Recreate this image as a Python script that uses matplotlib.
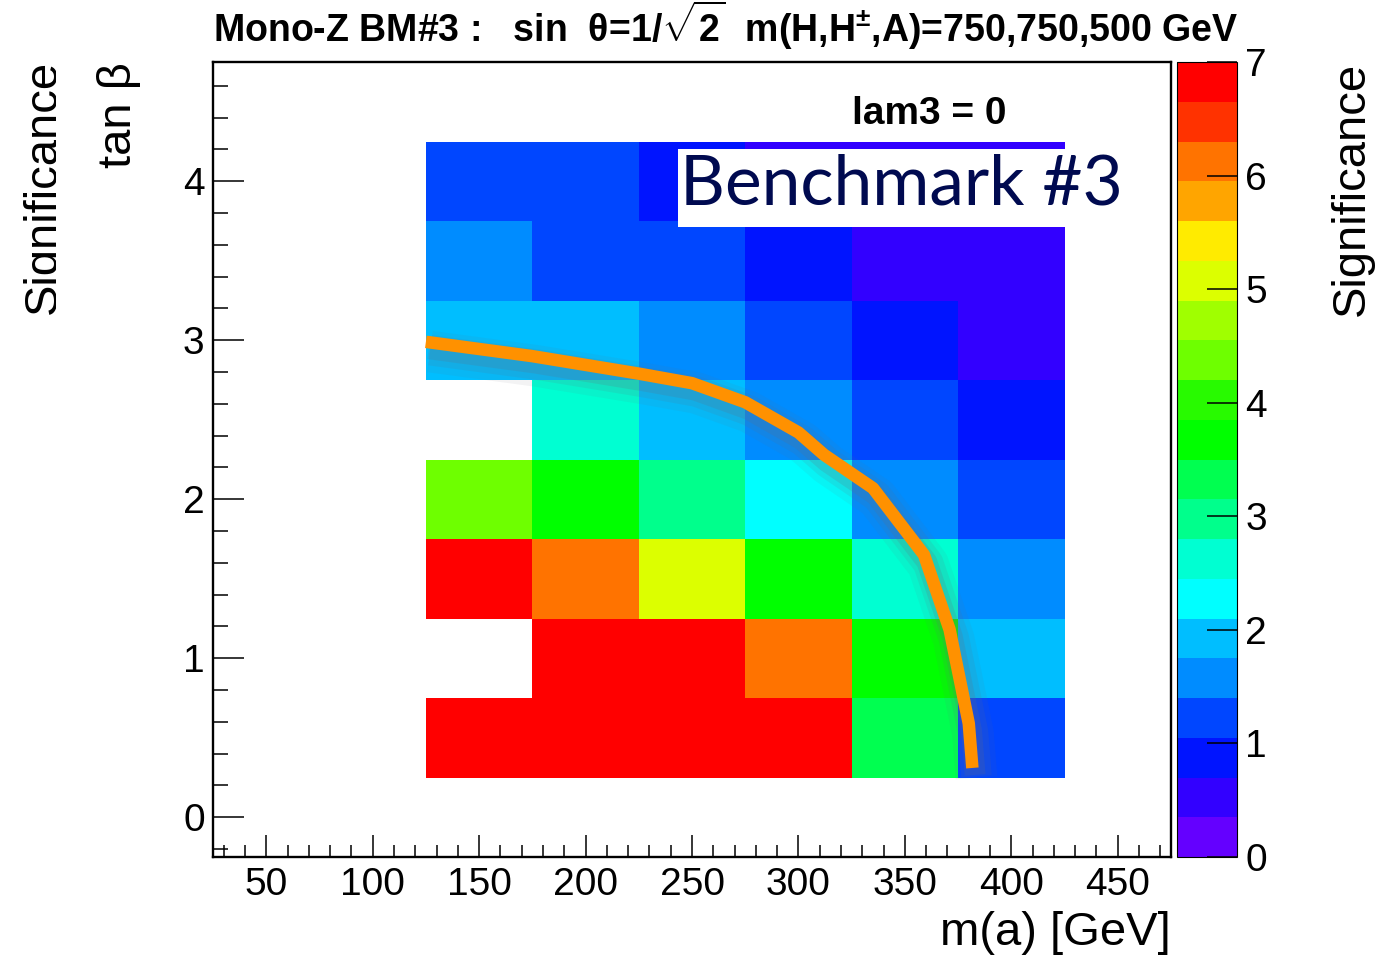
import numpy as np
import matplotlib
matplotlib.use('Agg')
import matplotlib.pyplot as plt
from matplotlib import font_manager
from matplotlib import patheffects as pe
from matplotlib.colors import ListedColormap, BoundaryNorm
from matplotlib.patches import Rectangle
from matplotlib.ticker import MultipleLocator
from matplotlib.transforms import Bbox, TransformedBbox

# --- data ---
ma_edges = [125, 175, 225, 275, 325, 375, 425]
tanb_edges = [0.25, 0.75, 1.25, 1.75, 2.25, 2.75, 3.25, 3.75, 4.25]

# significance per cell, rows from tan(b)=0.5 up to 4.0
signif = np.array([
    [6.9, 6.9, 6.9, 6.9, 3.3, 1.2],
    [np.nan, 6.9, 6.9, 6.1, 3.7, 1.9],
    [6.9, 6.1, 5.1, 3.7, 2.6, 1.6],
    [4.4, 3.7, 3.0, 2.3, 1.6, 1.2],
    [np.nan, 2.6, 1.9, 1.6, 1.2, 0.9],
    [1.9, 1.9, 1.6, 1.2, 0.9, 0.5],
    [1.6, 1.2, 1.2, 0.9, 0.5, 0.5],
    [1.2, 1.2, 0.9, 0.5, 0.5, 0.5],
])

# orange exclusion curve
curve_ma = [125, 175, 225, 250, 275, 300, 312, 335, 359, 371, 380, 381.7]
curve_tanb = [2.99, 2.90, 2.79, 2.73, 2.61, 2.42, 2.28, 2.07, 1.65, 1.18, 0.59, 0.31]

# ROOT-like 20 step palette, bottom to top
palette = ['#6400ff', '#3200ff', '#0014ff', '#0046ff', '#008cff',
           '#00beff', '#00ffff', '#00ffd2', '#00ff8c', '#00ff50',
           '#00ff00', '#28fa00', '#6eff00', '#a0ff00', '#dcff00',
           '#ffeb00', '#ffa500', '#ff7300', '#ff3200', '#ff0000']
levels = np.linspace(0, 7, 21)

names = {f.name for f in font_manager.fontManager.ttflist}
has_narrow = 'Liberation Sans Narrow' in names
narrow = 'Liberation Sans Narrow' if has_narrow else 'Liberation Sans'
title_size = 30 if has_narrow else 27
tick_size = 30 if has_narrow else 28

plt.rcParams['font.family'] = ['Liberation Sans', 'DejaVu Sans']
plt.rcParams['mathtext.fontset'] = 'custom'
plt.rcParams['mathtext.rm'] = narrow + ':bold'
plt.rcParams['mathtext.bf'] = narrow + ':bold'
plt.rcParams['mathtext.it'] = narrow + ':bold'

W, H = 1400, 956
fig = plt.figure(figsize=(W / 100, H / 100), dpi=100)
ax = fig.add_axes([213 / W, 1 - 857 / H, (1171 - 213) / W, (857 - 62) / H])

cmap = ListedColormap(palette)
norm = BoundaryNorm(levels, cmap.N)
mesh = ax.pcolormesh(ma_edges, tanb_edges, np.ma.masked_invalid(signif),
                     cmap=cmap, norm=norm, zorder=1)

ax.set_xlim(25, 475)
ax.set_ylim(-0.25, 4.75)
ax.xaxis.set_major_locator(MultipleLocator(50))
ax.xaxis.set_minor_locator(MultipleLocator(10))
ax.yaxis.set_major_locator(MultipleLocator(1))
ax.yaxis.set_minor_locator(MultipleLocator(0.2))
ax.tick_params(axis='x', which='major', direction='in', length=16, width=1.1, pad=7, labelsize=tick_size)
ax.tick_params(axis='x', which='minor', direction='in', length=8.5, width=1.1)
ax.tick_params(axis='y', which='major', direction='in', length=22, width=1.1, pad=6, labelsize=tick_size)
ax.tick_params(axis='y', which='minor', direction='in', length=11, width=1.1)
for lab in ax.get_xticklabels() + ax.get_yticklabels():
    lab.set_fontfamily(narrow)
for sp in ax.spines.values():
    sp.set_linewidth(1.7)

# curve with soft shadow
ax.plot(curve_ma, curve_tanb, color='#ff9100', lw=9, solid_capstyle='butt',
        solid_joinstyle='round', zorder=6,
        path_effects=[pe.SimpleLineShadow(offset=(3, -7), shadow_color='#6a6a7a', alpha=0.08, linewidth=30),
                      pe.SimpleLineShadow(offset=(3, -6), shadow_color='#6a6a7a', alpha=0.12, linewidth=22),
                      pe.SimpleLineShadow(offset=(2, -5), shadow_color='#6a6a7a', alpha=0.18, linewidth=15),
                      pe.Normal()])

# Benchmark label box
ax.add_patch(Rectangle((243.4, 3.71), 451 - 243.4, 4.2 - 3.71,
                       facecolor='white', edgecolor='none', zorder=4))
ax.text(244.5, 3.855, 'Benchmark #3', family=['Lato', 'DejaVu Sans'], size=50,
        color='#000a50', ha='left', va='baseline', zorder=5)

ax.text(325, 4.36, 'lam3 = 0', size=28, weight='bold', ha='left', va='baseline', zorder=5)

# colour bar
cax = fig.add_axes([1177 / W, 1 - 857 / H, 60 / W, 795 / H])
cb = fig.colorbar(mesh, cax=cax, ticks=range(8))
cb.minorticks_off()
cb.outline.set_linewidth(0.8)
cax.tick_params(direction='in', length=21.6, width=1.1, pad=6, labelsize=tick_size)
for lab in cax.get_yticklabels():
    lab.set_fontfamily(narrow)

# titles and axis labels
fig.text(213 / W, 1 - 42 / H,
         r'Mono-Z BM#3 :   sin  θ=1/$\sqrt{2}$  m(H,H$^{\pm}$,A)=750,750,500 GeV',
         family=narrow, weight='bold', size=title_size, ha='left', va='baseline')
fig.text(1171 / W, 1 - 945 / H, 'm(a) [GeV]', size=34, ha='right', va='baseline')
fig.text(97 / W, 1 - 62 / H, 'tan β', size=34, rotation=90, ha='left', va='top')
fig.text(1330 / W, 1 - 62 / H, 'Significance', size=34, rotation=90, ha='left', va='top')
left_sig = fig.text(22 / W, 1 - 60 / H, 'Significance', size=34, rotation=90,
                    ha='left', va='top')
left_sig.set_clip_on(True)
left_sig.set_clip_box(TransformedBbox(Bbox([[0, 0], [56 / W, 1]]), fig.transFigure))

fig.savefig('out.png', dpi=100)
